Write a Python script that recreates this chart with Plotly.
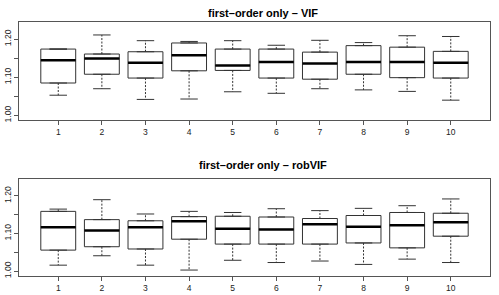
import plotly.graph_objects as go

groups = [1, 2, 3, 4, 5, 6, 7, 8, 9, 10]
group_labels = ["1", "2", "3", "4", "5", "6", "7", "8", "9", "10"]

# top panel: first-order only - VIF
vif_lower = [1.053, 1.070, 1.042, 1.043, 1.062, 1.058, 1.070, 1.067, 1.063, 1.040]
vif_q1 = [1.085, 1.108, 1.098, 1.117, 1.118, 1.098, 1.095, 1.108, 1.099, 1.098]
vif_median = [1.145, 1.149, 1.138, 1.158, 1.131, 1.140, 1.136, 1.140, 1.140, 1.138]
vif_q3 = [1.174, 1.161, 1.167, 1.190, 1.174, 1.174, 1.166, 1.183, 1.179, 1.168]
vif_upper = [1.174, 1.211, 1.196, 1.194, 1.196, 1.184, 1.197, 1.191, 1.209, 1.207]

# bottom panel: first-order only - robVIF
rob_lower = [1.016, 1.041, 1.016, 1.003, 1.029, 1.023, 1.027, 1.018, 1.032, 1.023]
rob_q1 = [1.056, 1.065, 1.059, 1.085, 1.072, 1.072, 1.072, 1.075, 1.062, 1.093]
rob_median = [1.117, 1.108, 1.117, 1.133, 1.113, 1.111, 1.125, 1.118, 1.122, 1.130]
rob_q3 = [1.159, 1.137, 1.134, 1.145, 1.146, 1.144, 1.140, 1.148, 1.156, 1.154]
rob_upper = [1.165, 1.190, 1.152, 1.159, 1.156, 1.166, 1.161, 1.167, 1.174, 1.192]

titles = ["first\u2013order only \u2013 VIF", "first\u2013order only \u2013 robVIF"]
ytick_vals = [1.00, 1.05, 1.10, 1.15, 1.20]
ytick_text = ["1.00", "", "1.10", "", "1.20"]

BOX_W = 0.8
CAP_W = 0.4
LINE_C = "#333333"
FRAME_C = "#555555"

fig = go.Figure()

panels = [
    (vif_lower, vif_q1, vif_median, vif_q3, vif_upper, "x", "y"),
    (rob_lower, rob_q1, rob_median, rob_q3, rob_upper, "x2", "y2"),
]

for lower, q1, med, q3, upper, xa, ya in panels:
    fig.add_trace(go.Box(
        x=groups, q1=q1, median=med, q3=q3, lowerfence=q1, upperfence=q3,
        width=BOX_W, fillcolor="white", line=dict(color=LINE_C, width=1),
        boxpoints=False, xaxis=xa, yaxis=ya, hoverinfo="skip", showlegend=False,
    ))
    wx, wy, cx, cy, mx, my = [], [], [], [], [], []
    for g, lo, a, m, b, hi in zip(groups, lower, q1, med, q3, upper):
        wx += [g, g, None, g, g, None]
        wy += [b, hi, None, a, lo, None]
        cx += [g - CAP_W / 2, g + CAP_W / 2, None, g - CAP_W / 2, g + CAP_W / 2, None]
        cy += [hi, hi, None, lo, lo, None]
        mx += [g - BOX_W / 2, g + BOX_W / 2, None]
        my += [m, m, None]
    fig.add_trace(go.Scatter(x=wx, y=wy, mode="lines", xaxis=xa, yaxis=ya,
                             line=dict(color=LINE_C, width=1, dash="2px,1.5px"),
                             hoverinfo="skip", showlegend=False))
    fig.add_trace(go.Scatter(x=cx, y=cy, mode="lines", xaxis=xa, yaxis=ya,
                             line=dict(color=LINE_C, width=1),
                             hoverinfo="skip", showlegend=False))
    fig.add_trace(go.Scatter(x=mx, y=my, mode="lines", xaxis=xa, yaxis=ya,
                             line=dict(color="black", width=2.5),
                             hoverinfo="skip", showlegend=False))

W, H = 499, 295
xdom = [19 / W, 490 / W]
top_dom = [1 - 120 / H, 1 - 22 / H]
bot_dom = [1 - 275.7 / H, 1 - 179 / H]
tickfont = dict(family="Liberation Sans, Arial, sans-serif", size=8.5, color="#222")

xcommon = dict(range=[0.1, 10.9], tickvals=groups, ticktext=group_labels,
               ticks="outside", ticklen=4, tickcolor=FRAME_C, showgrid=False,
               zeroline=False, showline=True, linecolor=FRAME_C, linewidth=1,
               mirror=True, tickfont=tickfont, domain=xdom, automargin=False)
ycommon = dict(range=[0.988, 1.245], tickvals=ytick_vals, ticktext=ytick_text,
               ticks="outside", ticklen=4, tickcolor=FRAME_C, showgrid=False,
               zeroline=False, showline=True, linecolor=FRAME_C, linewidth=1,
               mirror=True, tickfont=tickfont, tickangle=-90, automargin=False)

fig.update_layout(
    width=W, height=H,
    margin=dict(l=0, r=0, t=0, b=0),
    paper_bgcolor="white", plot_bgcolor="white",
    showlegend=False,
    xaxis=dict(**xcommon, anchor="y"),
    yaxis=dict(**ycommon, domain=top_dom, anchor="x"),
    xaxis2=dict(**xcommon, anchor="y2"),
    yaxis2=dict(**ycommon, domain=bot_dom, anchor="x2"),
    annotations=[
        dict(text="<b>" + titles[0] + "</b>", x=263 / W, y=1 - 12.7 / H,
             xref="paper", yref="paper", xanchor="center", yanchor="middle",
             showarrow=False, font=dict(family="Liberation Sans, Arial, sans-serif", size=11, color="black")),
        dict(text="<b>" + titles[1] + "</b>", x=263 / W, y=1 - 165 / H,
             xref="paper", yref="paper", xanchor="center", yanchor="middle",
             showarrow=False, font=dict(family="Liberation Sans, Arial, sans-serif", size=11, color="black")),
    ],
)

fig.write_html("out.html",
               config={"displayModeBar": False, "staticPlot": True},
               post_script="document.body.style.margin='0';document.body.style.padding='0';")
